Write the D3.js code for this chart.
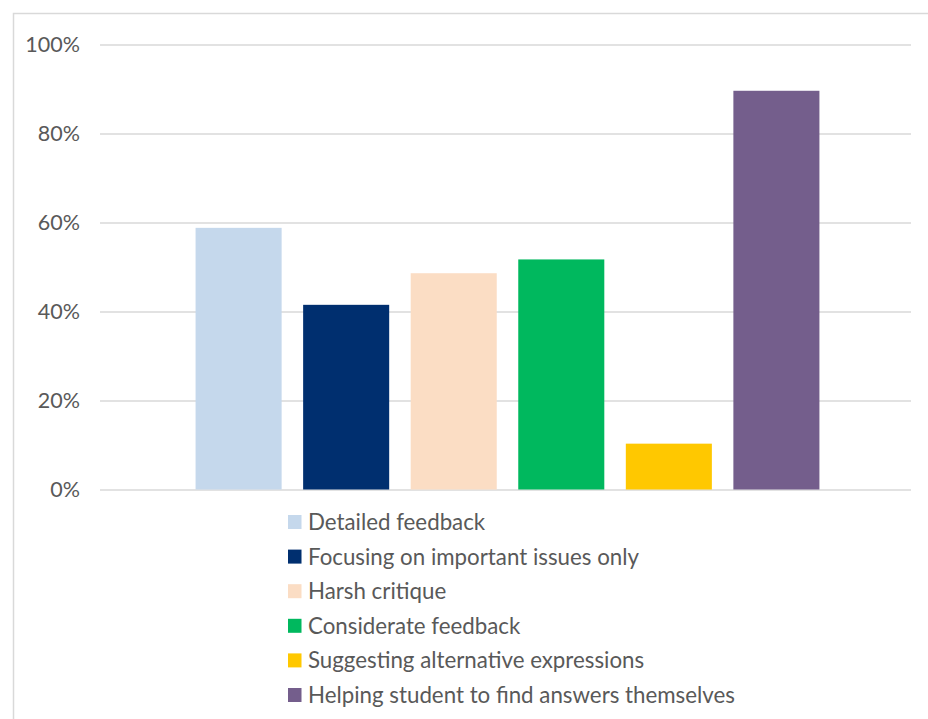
<!DOCTYPE html>
<html>
<head>
<meta charset="utf-8">
<script src="https://cdn.jsdelivr.net/npm/d3@7"></script>
<style>
  html, body { margin: 0; padding: 0; background: #fff; }
  svg { display: block; }
  text { font-family: Lato, "Noto Sans", sans-serif; fill: #595959; }
</style>
</head>
<body>
<svg id="chart" width="928" height="719"></svg>
<script>
// Share of respondents preferring each kind of feedback
const seriesNames = [
  "Detailed feedback",
  "Focusing on important issues only",
  "Harsh critique",
  "Considerate feedback",
  "Suggesting alternative expressions",
  "Helping student to find answers themselves"
];
const seriesValues = [0.588, 0.415, 0.486, 0.517, 0.103, 0.896];
const seriesColors = ["#C5D8EC", "#002F6F", "#FBDDC4", "#00B85E", "#FFC800", "#745E8C"];
const yTicks = [0, 0.2, 0.4, 0.6, 0.8, 1.0];

const svg = d3.select("#chart");

// Outer chart frame
svg.append("rect")
  .attr("x", 13.5).attr("y", 13.5)
  .attr("width", 940).attr("height", 740)
  .attr("fill", "none")
  .attr("stroke", "#D9D9D9")
  .attr("stroke-width", 1.5);

const plot = { left: 100, right: 911, top: 44.5, bottom: 489.5 };

const y = d3.scaleLinear().domain([0, 1]).range([plot.bottom, plot.top]);
const x = d3.scaleBand()
  .domain(seriesNames)
  .range([plot.left + 2, plot.right + 2])
  .paddingInner(0.2)
  .paddingOuter(0.87);

// Horizontal gridlines and percentage labels
const yAxis = d3.axisLeft(y)
  .tickValues(yTicks)
  .tickFormat(d3.format(".0%"))
  .tickSize(-(plot.right - plot.left))
  .tickPadding(20);

const gy = svg.append("g")
  .attr("transform", `translate(${plot.left},0)`)
  .call(yAxis);
gy.select(".domain").remove();
gy.selectAll(".tick line")
  .attr("stroke", "#D9D9D9")
  .attr("stroke-width", 1.5);
gy.selectAll(".tick text")
  .attr("font-size", 21.5)
  .attr("fill", "#595959")
  .style("font-family", "Lato, 'Noto Sans', sans-serif");

// Bars
svg.append("g")
  .selectAll("rect")
  .data(seriesNames)
  .join("rect")
  .attr("x", d => x(d))
  .attr("width", x.bandwidth())
  .attr("y", (d, i) => y(seriesValues[i]))
  .attr("height", (d, i) => y(0) - y(seriesValues[i]))
  .attr("fill", (d, i) => seriesColors[i]);

// Legend below the plot
const legend = svg.append("g").attr("transform", "translate(288,522)");
const rowGap = 34.6;
const items = legend.selectAll("g")
  .data(seriesNames)
  .join("g")
  .attr("transform", (d, i) => `translate(0,${i * rowGap})`);
items.append("rect")
  .attr("x", 0).attr("y", -7)
  .attr("width", 13.5).attr("height", 14)
  .attr("fill", (d, i) => seriesColors[i]);
items.append("text")
  .attr("x", 20)
  .attr("y", 0)
  .attr("dy", "0.36em")
  .attr("font-size", 22.3)
  .text(d => d);
</script>
</body>
</html>
